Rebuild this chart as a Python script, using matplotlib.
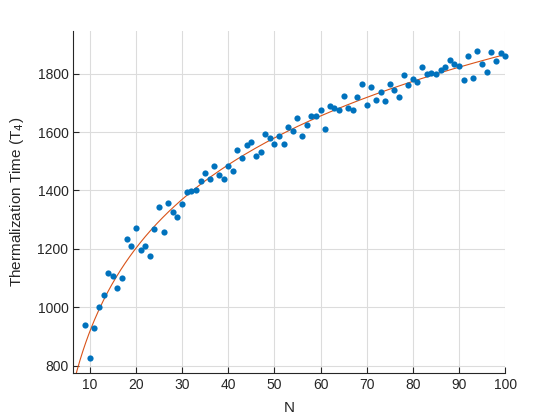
import matplotlib
matplotlib.use("Agg")
import matplotlib.pyplot as plt
import numpy as np

plt.rcParams['font.family'] = ['Liberation Sans', 'DejaVu Sans']

# measured thermalization times, N = 9..100
N = np.arange(9, 101)
T4 = [940, 824, 929, 1000, 1043, 1118, 1107, 1064, 1100, 1233,
      1210, 1270, 1195, 1209, 1176, 1267, 1344, 1258, 1356, 1327,
      1309, 1353, 1396, 1397, 1401, 1431, 1459, 1438, 1483, 1452,
      1438, 1483, 1465, 1540, 1511, 1554, 1566, 1517, 1531, 1592,
      1579, 1560, 1585, 1558, 1619, 1603, 1647, 1586, 1625, 1654,
      1655, 1674, 1610, 1690, 1683, 1677, 1725, 1683, 1675, 1720,
      1765, 1694, 1756, 1711, 1738, 1706, 1765, 1744, 1720, 1794,
      1761, 1782, 1770, 1822, 1800, 1801, 1798, 1812, 1822, 1846,
      1832, 1825, 1779, 1861, 1785, 1879, 1832, 1805, 1874, 1845,
      1870, 1860]
T4 = np.array(T4)

# log fit a*ln(N)+b
a, b = np.polyfit(np.log(N), T4, 1)
xf = np.linspace(6, 100, 300)
yf = a * np.log(xf) + b

fig = plt.figure(figsize=(5.6, 4.2), dpi=100)
ax = fig.add_axes([0.131, 0.111, 0.771, 0.815])

ax.scatter(N, T4, s=20, color='#0072BD', zorder=3, linewidths=0, clip_on=False)
ax.plot(xf, yf, color='#D95319', lw=0.8, zorder=2)

ax.set_xlim(6.45, 100)
ax.set_ylim(773, 1946)
ax.set_xticks(np.arange(10, 101, 10))
ax.set_yticks(np.arange(800, 1801, 200))

ax.grid(True, color='#dcdcdc', lw=0.8)
ax.set_axisbelow(True)
ax.spines['top'].set_visible(False)
ax.spines['right'].set_visible(False)
for s in ['left', 'bottom']:
    ax.spines[s].set_linewidth(0.8)
    ax.spines[s].set_color('#262626')
ax.tick_params(direction='in', length=4, width=0.8, labelsize=10, colors='#262626')

ax.set_xlabel('N', fontsize=11, color='#262626', labelpad=6)
ax.set_ylabel('Thermalization Time (T$_4$)', fontsize=11, color='#262626', labelpad=8)

fig.savefig('out.png', dpi=100)
